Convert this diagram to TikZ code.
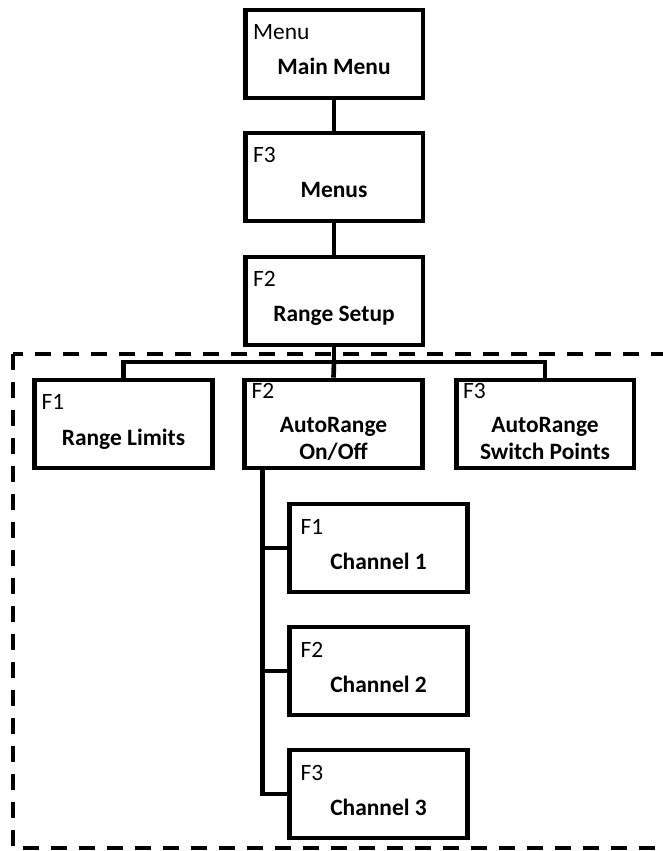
\documentclass[tikz,border=0pt]{standalone}
\usepackage{fontspec}
\setmainfont{Carlito}
\usetikzlibrary{calc}
\tikzset{menubox/.style={draw, line width=.14cm, minimum width=5.33cm, minimum height=2.64cm, inner sep=0}}
\tikzset{keytext/.style={anchor=base west, inner sep=0, font=\fontsize{20}{23}\selectfont}}
\tikzset{titletext/.style={anchor=base, inner sep=0, align=center, font=\fontsize{20}{23}\selectfont\bfseries}}
\tikzset{wire/.style={line width=.14cm}}

\begin{document}
\begin{tikzpicture} [x=.03cm, y=-.03cm]
\useasboundingbox (0,0) rectangle (662,851);
\draw[line width=.13cm, dash pattern=on .48cm off .36cm] (13,354) rectangle (700,848);
% upper chain
\foreach \nm/\y/\key/\ttl in {main/54/Menu/Main Menu, menus/177/F3/Menus, setup/301/F2/Range Setup} {
  \node[menubox] (\nm) at (334,\y) {};
  \node[keytext] (\nm-key) at ($(\nm.north west)+(10,32)$) {\key};
  \node[titletext] (\nm-title) at ($(\nm.north)+(0,67)$) {\ttl};
}
% second level (title offset is the last line's baseline)
\foreach \nm/\x/\key/\ky/\ttl/\ty in {limits/123.5/F1/32/Range Limits/68, onoff/333.5/F2/21/{AutoRange\\On/Off}/82, switch/545/F3/21/{AutoRange\\Switch Points}/82} {
  \node[menubox] (\nm) at (\x,424) {};
  \node[keytext] (\nm-key) at ($(\nm.north west)+(9,\ky)$) {\key};
  \node[titletext] (\nm-title) at ($(\nm.north)+(0,\ty)$) {\ttl};
}
% channels
\foreach \nm/\y/\key/\ttl in {ch1/548/F1/Channel 1, ch2/671/F2/Channel 2, ch3/794/F3/Channel 3} {
  \node[menubox] (\nm) at (378.5,\y) {};
  \node[keytext] (\nm-key) at ($(\nm.north west)+(13,33)$) {\key};
  \node[titletext] (\nm-title) at ($(\nm.north)+(0,68)$) {\ttl};
}
\coordinate (bus) at (334,362);
\coordinate (trunk) at ($(onoff.south west)+(20,0)$);
\draw[wire] (main) -- (menus);
\draw[wire] (menus) -- (setup);
\draw[wire] (setup) -- (bus);
\draw[wire] (limits.north) |- (bus) -| (switch.north);
\draw[wire] (bus) -- (onoff.north);
\draw[wire] (trunk) |- (ch3.west);
\draw[wire] (trunk |- ch1.west) -- (ch1.west);
\draw[wire] (trunk |- ch2.west) -- (ch2.west);
\end{tikzpicture}
\end{document}
